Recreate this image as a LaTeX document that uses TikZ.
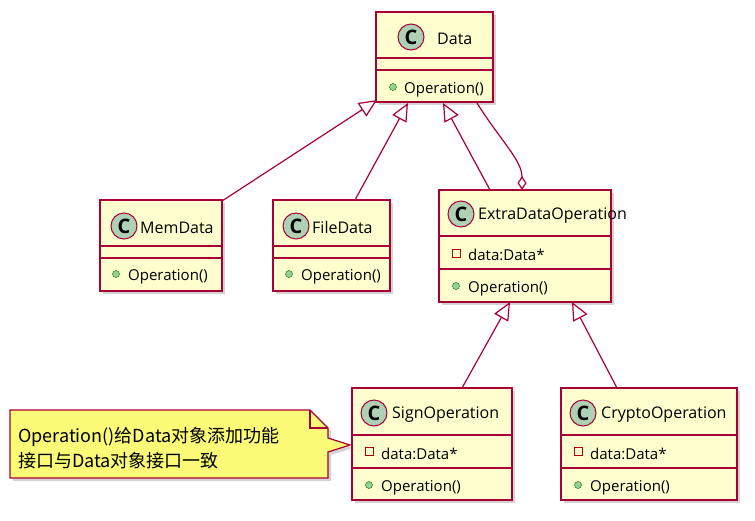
\documentclass[tikz,border=0pt]{standalone}
\usepackage{fontspec}
\setmainfont{Open Sans}
\newfontfamily\cjk{Noto Sans CJK SC}
\usetikzlibrary{shadows,arrows.meta}
\definecolor{bd}{HTML}{A80036}
\definecolor{bg}{HTML}{FEFECE}
\definecolor{cg}{HTML}{ADD1B2}
\definecolor{nt}{HTML}{FBFB77}
\colorlet{pubb}{green!40!black}
\tikzset{x=1pt,y=-1pt,
 cls/.style={draw=bd,line width=1.8pt,fill=bg,drop shadow={opacity=0.35,shadow xshift=3pt,shadow yshift=-3pt}},
 sep/.style={draw=bd,line width=1.5pt},
 lbl/.style={anchor=west,inner sep=0pt,yshift=-1.5pt,font=\fontsize{15}{17}\selectfont},
 ttl/.style={anchor=west,inner sep=0pt,yshift=-1.5pt,font=\fontsize{16}{18}\selectfont},
 cc/.style={circle,draw=bd,line width=1pt,fill=cg,minimum size=26pt,inner sep=0pt,font=\fontsize{20}{20}\selectfont\rmfamily\bfseries},
 pub/.style={circle,draw=pubb,fill=green!40!gray!60,minimum size=7pt,inner sep=0pt},
 priv/.style={draw=red!70!black,line width=0.9pt,minimum size=8pt,inner sep=0},
 rel/.style={draw=bd,line width=1.2pt},
 inh/.style={rel,-{Triangle[open,length=18pt,width=16pt]}},
}
\begin{document}
\begin{tikzpicture}
\useasboundingbox (0,0) rectangle (755,520);
% Data
\node[cls,minimum width=117,minimum height=90,inner sep=0] (data) at (434.5,57) {};
\draw[sep] (376,58)--(493,58) (376,70)--(493,70);
\node[cc] (cdata) at (411,37) {C};
\node[ttl] (tdata) at (437,37) {Data};
\node[pub] (pdata) at (393,87) {};
\node[lbl] (odata) at (404,88) {Operation()};
% MemData
\node[cls,minimum width=122,minimum height=91,inner sep=0] (mem) at (161,245.5) {};
\draw[sep] (100,246)--(222,246) (100,258)--(222,258);
\node[cc] (cmem) at (124,226) {C};
\node[ttl] (tmem) at (140,226) {MemData};
\node[pub] (pmem) at (116,274) {};
\node[lbl] (omem) at (128,275) {Operation()};
% FileData
\node[cls,minimum width=117,minimum height=91,inner sep=0] (file) at (331.5,245.5) {};
\draw[sep] (273,246)--(390,246) (273,258)--(390,258);
\node[cc] (cfile) at (296,226) {C};
\node[ttl] (tfile) at (312,226) {FileData};
\node[pub] (pfile) at (289,274) {};
\node[lbl] (ofile) at (301,275) {Operation()};
% Extra
\node[cls,minimum width=172,minimum height=112,inner sep=0] (extra) at (525,246) {};
\draw[sep] (439,236)--(611,236) (439,269)--(611,269);
\node[cc] (cextra) at (461,214) {C};
\node[ttl] (textra) at (478,214) {ExtraDataOperation};
\node[priv] (aextra) at (456,253) {};
\node[lbl] (dextra) at (468,253) {data:Data*};
\node[pub] (pextra) at (456,286) {};
\node[lbl] (oextra) at (468,287) {Operation()};
% Sign
\node[cls,minimum width=160,minimum height=112,inner sep=0] (sign) at (432,444) {};
\draw[sep] (352,435)--(512,435) (352,468)--(512,468);
\node[cc] (csign) at (374,413) {C};
\node[ttl] (tsign) at (392,413) {SignOperation};
\node[priv] (asign) at (369,451) {};
\node[lbl] (dsign) at (381,452) {data:Data*};
\node[pub] (psign) at (369,485) {};
\node[lbl] (osign) at (381,486) {Operation()};
% Crypto
\node[cls,minimum width=176,minimum height=112,inner sep=0] (crypto) at (649,444) {};
\draw[sep] (561,435)--(737,435) (561,468)--(737,468);
\node[cc] (ccrypto) at (583,413) {C};
\node[ttl] (tcrypto) at (601,413) {CryptoOperation};
\node[priv] (acrypto) at (578,451) {};
\node[lbl] (dcrypto) at (590,452) {data:Data*};
\node[pub] (pcrypto) at (578,485) {};
\node[lbl] (ocrypto) at (590,486) {Operation()};
% relations
\coordinate (m1) at (222,201); \coordinate (d1) at (377,100);
\draw[inh] (m1)--(d1);
\coordinate (f1) at (355,200); \coordinate (d2) at (408,103);
\draw[inh] (f1)--(d2);
\coordinate (e1) at (490,190); \coordinate (d3) at (443,103);
\draw[inh] (e1)--(d3);
\coordinate (d4) at (477,103); \coordinate (e2) at (522,190);
\draw[rel,-{Diamond[open,length=14pt,width=9pt]}] (d4) .. controls (500,140) and (522,160) .. (e2);
\coordinate (s1) at (462,388); \coordinate (e3) at (510,302);
\draw[inh] (s1)--(e3);
\coordinate (c1) at (617,388); \coordinate (e4) at (572,302);
\draw[inh] (c1)--(e4);
% note
\draw[draw=bd,fill=nt,line width=1.2pt,drop shadow={opacity=0.35,shadow xshift=3pt,shadow yshift=-3pt}]
 (10,410)--(310,410)--(328,428)--(328,438)--(350,445)--(328,452)--(328,478)--(10,478)--cycle;
\draw[draw=bd,line width=1.2pt] (310,410)--(310,428)--(328,428);
\node[anchor=west,inner sep=0,font=\cjk\fontsize{18}{20}\selectfont] (n1) at (18,437) {Operation()给Data对象添加功能};
\node[anchor=west,inner sep=0,font=\cjk\fontsize{18}{20}\selectfont] (n2) at (18,461) {接口与Data对象接口一致};
\end{tikzpicture}
\end{document}
